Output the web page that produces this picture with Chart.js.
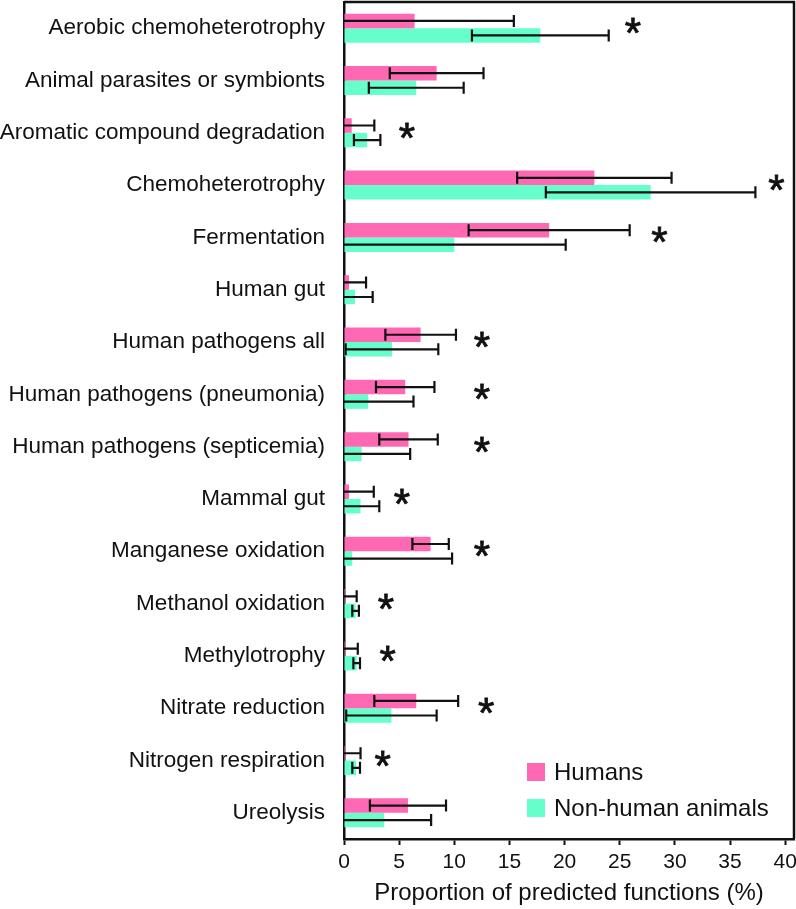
<!DOCTYPE html>
<html>
<head>
<meta charset="utf-8">
<script src="https://cdn.jsdelivr.net/npm/chart.js@4"></script>
<style>
    html, body { margin: 0; padding: 0; background: #fff; }
    #wrap { width: 796px; height: 909px; }
</style>
</head>
<body>
<div id="wrap"><canvas id="funcChart" width="796" height="909"></canvas></div>
<script>
// Predicted functions, mean and SD (%)
const categories = [
    'Aerobic chemoheterotrophy', 'Animal parasites or symbionts', 'Aromatic compound degradation',
    'Chemoheterotrophy', 'Fermentation', 'Human gut', 'Human pathogens all',
    'Human pathogens (pneumonia)', 'Human pathogens (septicemia)', 'Mammal gut',
    'Manganese oxidation', 'Methanol oxidation', 'Methylotrophy', 'Nitrate reduction',
    'Nitrogen respiration', 'Ureolysis'
];
const humans    = [6.4, 8.4, 0.7, 22.7, 18.6, 0.45, 6.95, 5.55, 5.85, 0.45, 7.85, 0.1, 0.1, 6.55, 0.1, 5.8];
const humansSd  = [9.0, 4.25, 2.05, 7.0, 7.3, 1.55, 3.2, 2.65, 2.65, 2.25, 1.65, 1.05, 1.15, 3.8, 1.4, 3.45];
const animals   = [17.8, 6.55, 2.1, 27.8, 10.0, 1.0, 4.35, 2.2, 1.6, 1.5, 0.75, 1.05, 1.15, 4.3, 1.1, 3.65];
const animalsSd = [6.2, 4.3, 1.2, 9.5, 10.1, 1.6, 4.2, 4.1, 4.4, 1.7, 9.05, 0.3, 0.3, 4.1, 0.35, 4.25];
// where the significance asterisk sits (x value), null = none
const starAt = [26.2, null, 5.7, 39.2, 28.6, null, 12.5, 12.5, 12.5, 5.25, 12.5, 3.8, 3.95, 12.9, 3.5, null];
const xTicks = [0, 5, 10, 15, 20, 25, 30, 35, 40];
const xMax = 40.8;

const FONT = "'Liberation Sans', Arial, sans-serif";
const sdList = [humansSd, animalsSd];

// error bars, drawn after the bars
const errorBars = {
    id: 'errorBars',
    afterDatasetsDraw(chart) {
        const ctx = chart.ctx;
        const xs = chart.scales.x;
        const area = chart.chartArea;
        ctx.save();
        ctx.beginPath();
        ctx.rect(area.left, area.top, area.right - area.left, area.bottom - area.top);
        ctx.clip();
        ctx.strokeStyle = '#111';
        ctx.lineWidth = 2.2;
        chart.data.datasets.forEach((ds, d) => {
            const meta = chart.getDatasetMeta(d);
            meta.data.forEach((bar, i) => {
                const v = ds.data[i];
                const sd = sdList[d][i];
                const x1 = xs.getPixelForValue(v - sd);
                const x2 = xs.getPixelForValue(v + sd);
                const y = bar.y;
                ctx.beginPath();
                ctx.moveTo(x1, y); ctx.lineTo(x2, y);
                ctx.moveTo(x1, y - 6); ctx.lineTo(x1, y + 6);
                ctx.moveTo(x2, y - 6); ctx.lineTo(x2, y + 6);
                ctx.stroke();
            });
        });
        ctx.restore();
    }
};

// asterisks, frame and legend
const extras = {
    id: 'extras',
    afterDraw(chart) {
        const ctx = chart.ctx;
        const xs = chart.scales.x;
        const ys = chart.scales.y;
        const area = chart.chartArea;
        ctx.save();

        // asterisks
        ctx.fillStyle = '#111';
        ctx.strokeStyle = '#111';
        ctx.lineWidth = 0.8;
        ctx.font = '42px ' + FONT;
        ctx.textAlign = 'center';
        ctx.textBaseline = 'alphabetic';
        starAt.forEach((sx, i) => {
            if (sx === null) return;
            const px = xs.getPixelForValue(sx);
            const py = ys.getPixelForValue(i) + 19;
            ctx.fillText('*', px, py);
            ctx.strokeText('*', px, py);
        });

        // top and right frame lines
        ctx.lineWidth = 2.5;
        ctx.beginPath();
        ctx.moveTo(area.left, area.top);
        ctx.lineTo(area.right, area.top);
        ctx.lineTo(area.right, area.bottom);
        ctx.stroke();

        // legend
        ctx.font = '24px ' + FONT;
        ctx.textAlign = 'left';
        ctx.textBaseline = 'middle';
        chart.data.datasets.forEach((ds, d) => {
            const top = 763 + d * 36;
            ctx.fillStyle = ds.backgroundColor;
            ctx.fillRect(527, top, 18, 18);
            ctx.fillStyle = '#111';
            ctx.fillText(ds.label, 554, top + 10);
        });
        ctx.restore();
    }
};

new Chart(document.getElementById('funcChart'), {
    type: 'bar',
    data: {
        labels: categories,
        datasets: [
            { label: 'Humans', data: humans, backgroundColor: '#FF69B4' },
            { label: 'Non-human animals', data: animals, backgroundColor: '#66FFCC' }
        ]
    },
    options: {
        indexAxis: 'y',
        responsive: false,
        animation: false,
        layout: { padding: { top: 2, right: 2, left: 0, bottom: 0 } },
        datasets: {
            bar: { categoryPercentage: 0.555, barPercentage: 1.0, borderWidth: 0 }
        },
        plugins: {
            legend: { display: false },
            tooltip: { enabled: false }
        },
        scales: {
            x: {
                min: 0,
                max: xMax,
                afterBuildTicks: (scale) => {
                    scale.ticks = xTicks.map(v => ({ value: v }));
                },
                afterFit: (scale) => {
                    scale.height = 70;
                    scale.paddingLeft = 0;
                    scale.paddingRight = 0;
                },
                grid: {
                    display: true,
                    drawOnChartArea: false,
                    drawTicks: true,
                    tickLength: 6,
                    tickWidth: 2,
                    tickColor: '#111'
                },
                border: { display: true, color: '#111', width: 2.5 },
                ticks: {
                    color: '#111',
                    font: { family: FONT, size: 21 },
                    padding: 5,
                    maxRotation: 0
                },
                title: {
                    display: true,
                    text: 'Proportion of predicted functions (%)',
                    color: '#111',
                    font: { family: FONT, size: 24 },
                    padding: { top: 0, bottom: 1 }
                }
            },
            y: {
                afterFit: (scale) => {
                    scale.width = 344;
                    scale.paddingTop = 0;
                    scale.paddingBottom = 0;
                },
                grid: { display: false, drawTicks: false },
                border: { display: true, color: '#111', width: 2.5 },
                ticks: {
                    color: '#111',
                    font: { family: FONT, size: 22.5 },
                    padding: 19,
                    autoSkip: false
                }
            }
        }
    },
    plugins: [errorBars, extras]
});
</script>
</body>
</html>
